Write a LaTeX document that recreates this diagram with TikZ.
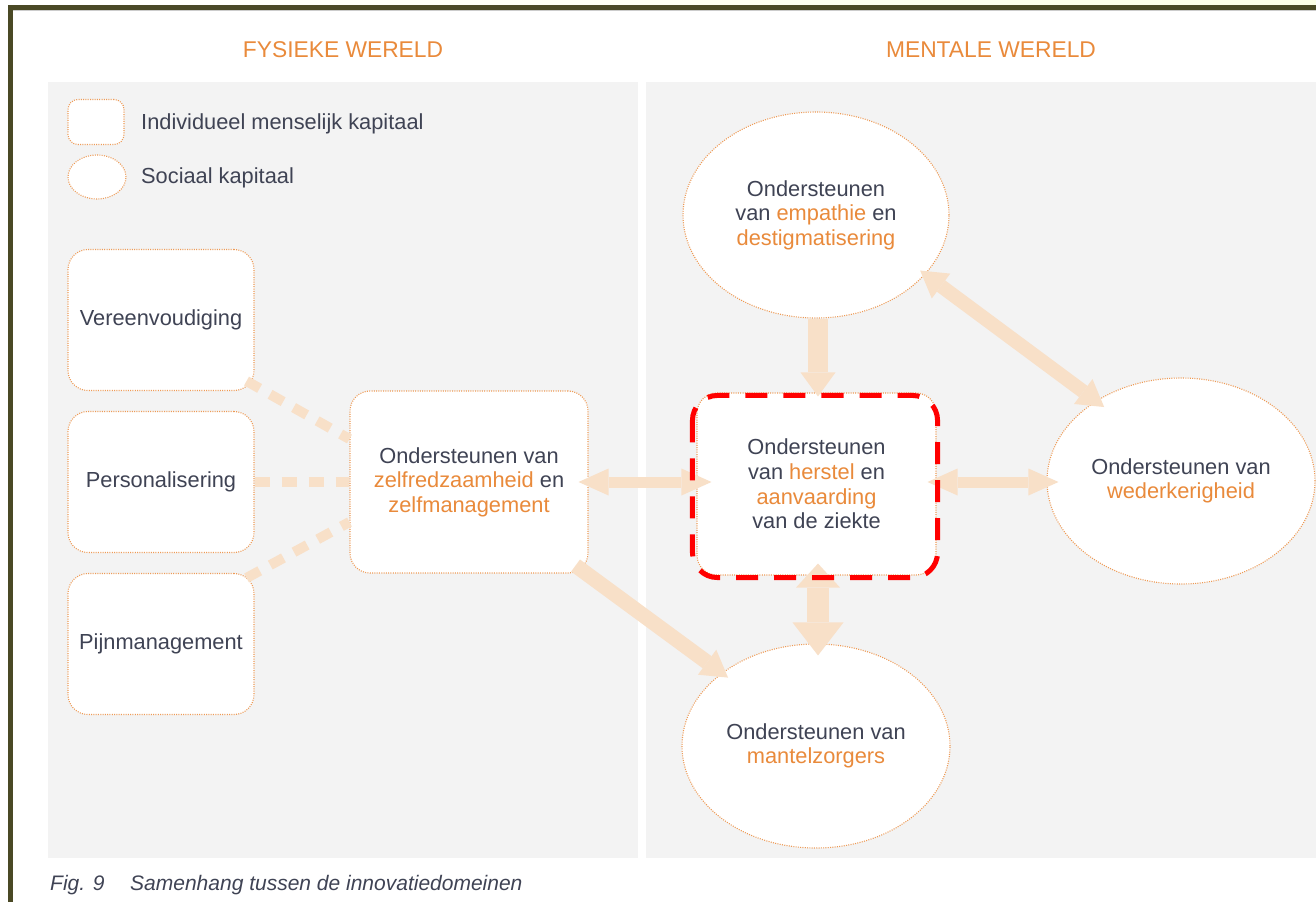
\documentclass[tikz,border=0pt]{standalone}
\usepackage{fontspec}
\setmainfont{Liberation Sans}
\usetikzlibrary{arrows.meta,shapes.geometric,calc}
\definecolor{frameol}{HTML}{4A4925}
\definecolor{panelgray}{HTML}{F3F3F3}
\definecolor{orng}{HTML}{E98A3B}
\definecolor{txt}{HTML}{3F4354}
\definecolor{peach}{HTML}{F8E0C8}
\definecolor{bord}{HTML}{EE9A55}
\definecolor{redd}{HTML}{FF0000}
\newcommand{\bodyfont}{\fontsize{21.8}{24.6}\selectfont}
\newcommand{\orr}[1]{\textcolor{orng}{#1}}
\begin{document}
\begin{tikzpicture}[x=1pt,y=-1pt,
  box/.style={draw=bord, dash pattern=on 1pt off 1.3pt, line width=1.1pt, fill=white, rounded corners=20pt,
    minimum width=186pt, minimum height=141pt, inner sep=0pt, text=txt, align=center, font=\bodyfont},
  ell/.style={ellipse, draw=bord, dash pattern=on 1pt off 1.3pt, line width=1.1pt, fill=white, inner sep=0pt,
    text=txt, align=center, font=\bodyfont},
  heading/.style={text=orng, font=\fontsize{22.8}{26}\selectfont, inner sep=0pt},
  legtext/.style={text=txt, font=\bodyfont, anchor=west, inner sep=0pt},
  dashcon/.style={draw=peach, line width=10pt, dash pattern=on 15pt off 12pt},
  fat/.style={draw=peach, fill=peach},
  FatH/.tip={Triangle[length=30pt, width=27pt, line width=0pt]},
  FatV/.tip={Triangle[length=24pt, width=35pt, line width=0pt]},
  FatT/.tip={Triangle[length=24pt, width=44pt, line width=0pt]},
  FatB/.tip={Triangle[length=33pt, width=51pt, line width=0pt]},
  FatD/.tip={Triangle[length=26pt, width=31pt, line width=0pt]},
  reddash/.style={draw=redd, line width=5pt, dash pattern=on 22pt off 16pt, rounded corners=25pt}
]
\useasboundingbox (0,0) rectangle (1316,902);
% frame
\shade[left color=white, right color=green!10!yellow!10] (0,0) rectangle (1316,5);
\fill[frameol] (8,5) rectangle (1316,10);
\fill[frameol] (8,5) rectangle (13,902);
\fill[gray!40] (13,10) rectangle (1316,11);
% panels
\fill[panelgray] (48,82) rectangle (638,858);
\fill[panelgray] (646,82) rectangle (1316,858);
% headings
\node[heading] (hfys) at (343,50) {FYSIEKE WERELD};
\node[heading] (hment) at (991,50) {MENTALE WERELD};
% legend
\node[box, minimum width=56pt, minimum height=45pt, rounded corners=10pt] (lrect) at (96,122) {};
\node[ell, minimum width=58pt, minimum height=44pt] (lell) at (97,177) {};
\node[legtext] (lrtext) at (141,124) {Individueel menselijk kapitaal};
\node[legtext] (letext) at (141,178) {Sociaal kapitaal};
% left boxes
\node[box] (vereen) at (161,320) {Vereenvoudiging};
\node[box] (pers) at (161,482) {Personalisering};
\node[box] (pijn) at (161,644) {Pijnmanagement};
\node[box, minimum width=238pt, minimum height=182pt] (zelf) at (469,482)
  {Ondersteunen van\\\orr{zelfredzaamheid} en\\\orr{zelfmanagement}};
% ellipses
\node[ell, minimum width=266pt, minimum height=206pt] (emp) at (816,215)
  {Ondersteunen\\van \orr{empathie} en\\\orr{destigmatisering}};
\node[ell, minimum width=268pt, minimum height=206pt] (wed) at (1181,481)
  {Ondersteunen van\\\orr{wederkerigheid}};
\node[ell, minimum width=268pt, minimum height=204pt] (mantel) at (816,746)
  {Ondersteunen van\\\orr{mantelzorgers}};
% central box
\node[box, minimum width=239pt, minimum height=182pt] (herstel) at (816.5,484)
  {Ondersteunen\\van \orr{herstel} en\\\orr{aanvaarding}\\van de ziekte};
% dashed connectors
\draw[dashcon] ([xshift=-8pt,yshift=10pt]vereen.south east) -- ([yshift=43pt]zelf.west);
\draw[dashcon] (pers.east) -- (zelf.west);
\draw[dashcon] ([xshift=-8pt,yshift=-5pt]pijn.north east) -- ([yshift=-40pt]zelf.west);
% fat arrows
\draw[fat, line width=11pt, {FatH}-{FatH}] ([xshift=-10pt]zelf.east) -- ([xshift=15pt]herstel.west |- zelf.east);
\draw[fat, line width=11pt, {FatH}-{FatH}] ([xshift=-9pt]herstel.east |- zelf.east) -- ([xshift=12pt]wed.west |- zelf.east);
\draw[fat, line width=20pt, -{FatV}] ([xshift=2pt]emp.south) -- ([xshift=1.5pt,yshift=-4pt]herstel.north);
\draw[fat, line width=22pt, {FatT}-{FatB}] ([xshift=1.5pt,yshift=12pt]herstel.south) -- ([xshift=2pt,yshift=-12pt]mantel.north);
\draw[fat, line width=15pt, -{FatD}] ([xshift=-13pt,yshift=8pt]zelf.south east) -- ([xshift=6pt,yshift=-5pt]mantel.142);
\draw[fat, line width=14pt, {FatD}-{FatD}] ([xshift=-6pt,yshift=3pt]emp.-28) -- ([xshift=7pt,yshift=-7pt]wed.136);
% red dashed highlight
\draw[reddash] ([xshift=-4pt,yshift=-3pt]herstel.north west) rectangle ([xshift=1pt,yshift=-2pt]herstel.south east);
% caption
\node[anchor=west, inner sep=0pt, text=txt, font=\fontsize{21}{24}\selectfont\itshape] (cap1) at (50,885) {Fig. 9};
\node[anchor=west, inner sep=0pt, text=txt, font=\fontsize{21}{24}\selectfont\itshape] (cap2) at (130,885) {Samenhang tussen de innovatiedomeinen};
\end{tikzpicture}
\end{document}
